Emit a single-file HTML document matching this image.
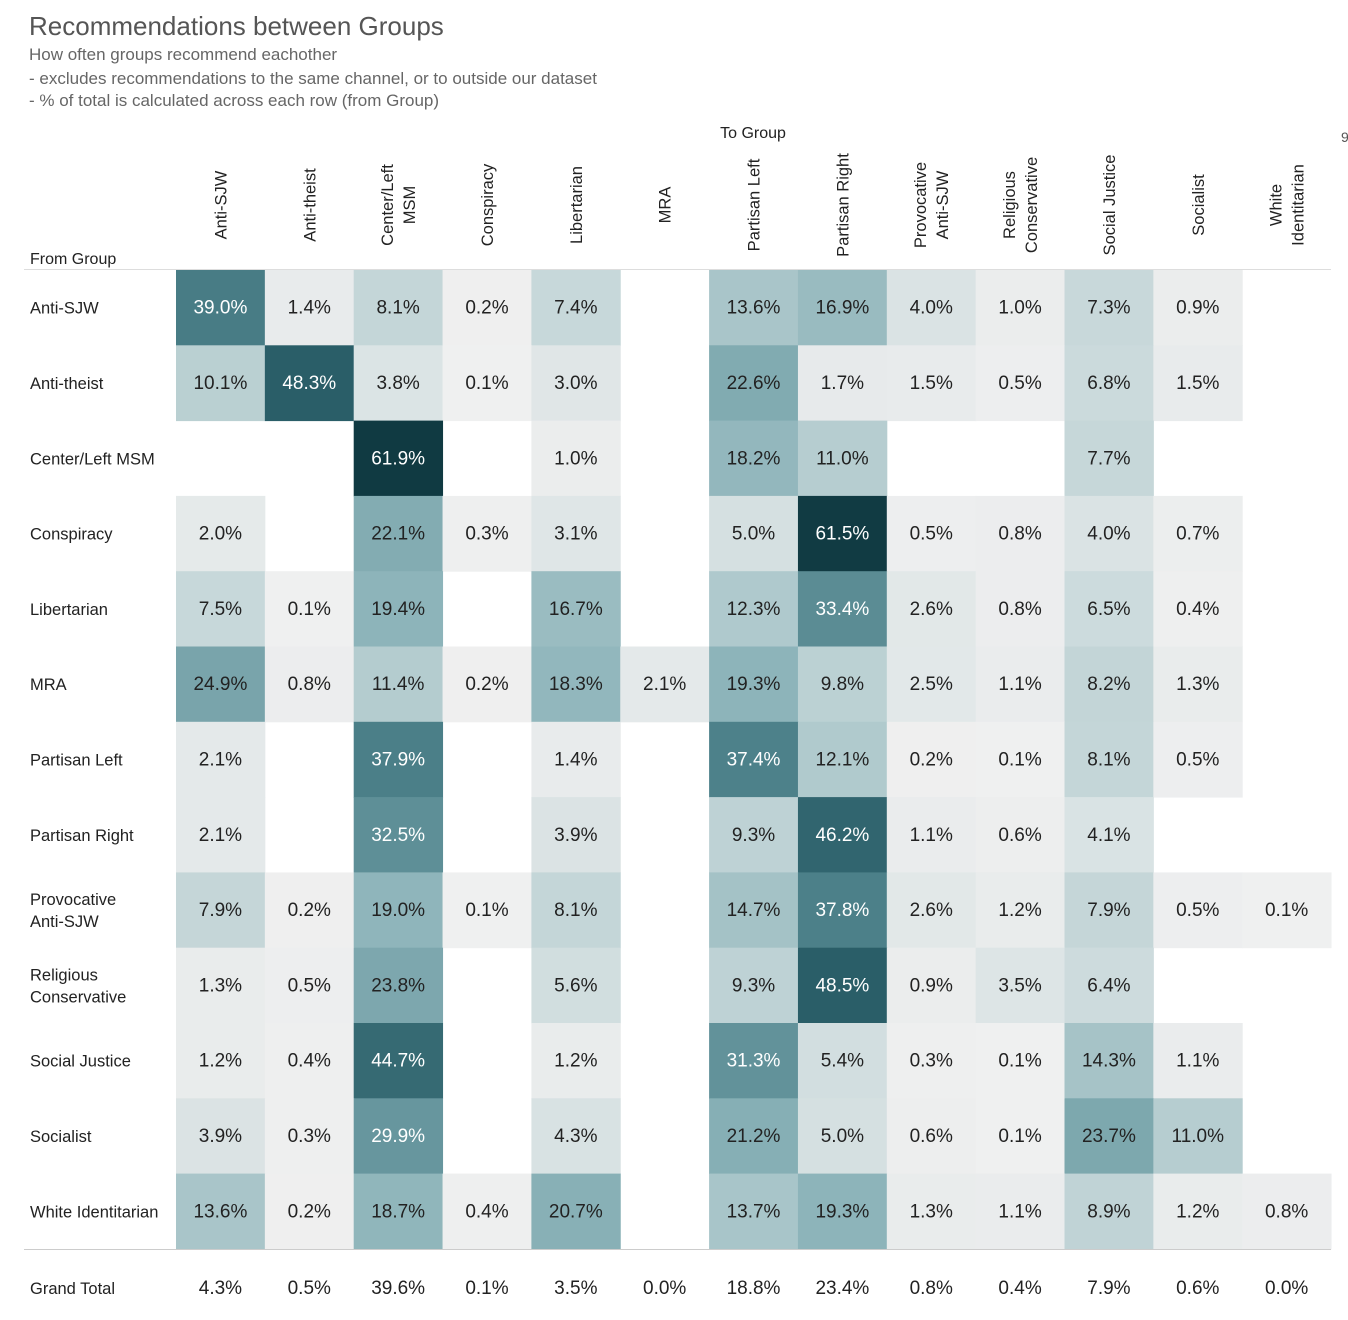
<!DOCTYPE html>
<html><head><meta charset="utf-8"><style>
body{margin:0;background:#fff;width:1348px;height:1315px;overflow:hidden;font-family:"Liberation Sans",sans-serif;}
svg text{font-family:"Liberation Sans",sans-serif;}
</style></head><body>
<svg id="chart" width="1348" height="1315">
<text x="29" y="35" font-size="26" fill="#555">Recommendations between Groups</text>
<text x="29" y="60" font-size="17" fill="#666">How often groups recommend eachother</text>
<text x="29" y="84" font-size="17" fill="#666"> - excludes recommendations to the same channel, or to outside our dataset</text>
<text x="29" y="106" font-size="17" fill="#666"> - % of total is calculated  across each row (from Group)</text>
<text x="753" y="138" font-size="16" fill="#222" text-anchor="middle">To Group</text>
<text x="30" y="264" font-size="16" fill="#222">From Group</text>
<text x="1341" y="142" font-size="14" fill="#555">9</text>
<g id="cells"></g>
</svg>
<script>
const cols=["Anti-SJW","Anti-theist","Center/Left|MSM","Conspiracy","Libertarian","MRA","Partisan Left","Partisan Right","Provocative|Anti-SJW","Religious|Conservative","Social Justice","Socialist","White|Identitarian"];
const rows=["Anti-SJW","Anti-theist","Center/Left MSM","Conspiracy","Libertarian","MRA","Partisan Left","Partisan Right","Provocative|Anti-SJW","Religious|Conservative","Social Justice","Socialist","White Identitarian"];
const N=null;
const values=[
[39.0,1.4,8.1,0.2,7.4,N,13.6,16.9,4.0,1.0,7.3,0.9,N],
[10.1,48.3,3.8,0.1,3.0,N,22.6,1.7,1.5,0.5,6.8,1.5,N],
[N,N,61.9,N,1.0,N,18.2,11.0,N,N,7.7,N,N],
[2.0,N,22.1,0.3,3.1,N,5.0,61.5,0.5,0.8,4.0,0.7,N],
[7.5,0.1,19.4,N,16.7,N,12.3,33.4,2.6,0.8,6.5,0.4,N],
[24.9,0.8,11.4,0.2,18.3,2.1,19.3,9.8,2.5,1.1,8.2,1.3,N],
[2.1,N,37.9,N,1.4,N,37.4,12.1,0.2,0.1,8.1,0.5,N],
[2.1,N,32.5,N,3.9,N,9.3,46.2,1.1,0.6,4.1,N,N],
[7.9,0.2,19.0,0.1,8.1,N,14.7,37.8,2.6,1.2,7.9,0.5,0.1],
[1.3,0.5,23.8,N,5.6,N,9.3,48.5,0.9,3.5,6.4,N,N],
[1.2,0.4,44.7,N,1.2,N,31.3,5.4,0.3,0.1,14.3,1.1,N],
[3.9,0.3,29.9,N,4.3,N,21.2,5.0,0.6,0.1,23.7,11.0,N],
[13.6,0.2,18.7,0.4,20.7,N,13.7,19.3,1.3,1.1,8.9,1.2,0.8]];
const totals=[4.3,0.5,39.6,0.1,3.5,0.0,18.8,23.4,0.8,0.4,7.9,0.6,0.0];

const X0=176,CW=88.85,Y0=270,RH=75.3;
const xPos=i=>X0+i*CW, yPos=j=>Y0+j*RH;
const stops=[[0,[240,240,240]],[8,[196,214,216]],[20,[138,178,184]],[38,[75,127,136]],[48,[43,95,105]],[62,[16,58,66]]];
function color(v){for(let k=1;k<stops.length;k++){if(v<=stops[k][0]||k==stops.length-1){const a=stops[k-1],b=stops[k];const t=Math.min(1,(v-a[0])/(b[0]-a[0]));const c=a[1].map((q,i)=>Math.round(q+(b[1][i]-q)*t));return `rgb(${c})`;}}}
const g=document.getElementById('cells');const NS="http://www.w3.org/2000/svg";
function mk(tag,attrs,txt){const e=document.createElementNS(NS,tag);for(const k in attrs)e.setAttribute(k,attrs[k]);if(txt!=null)e.textContent=txt;g.appendChild(e);return e;}
cols.forEach((c,i)=>{const parts=c.split('|');const cx=xPos(i)+CW/2;
 parts.forEach((p,k)=>{const off=(k-(parts.length-1)/2)*22;const t=mk('text',{x:0,y:0,'font-size':16.5,fill:'#222','text-anchor':'middle',transform:`translate(${cx+off+6},205) rotate(-90)`},p);
 
 });});
rows.forEach((r,j)=>{const parts=r.split('|');const cy=yPos(j)+RH/2;
 parts.forEach((p,k)=>{const t=mk('text',{x:30,y:cy+6+(k-(parts.length-1)/2)*22,'font-size':16.5,fill:'#222'},p);
 
 });
 values[j].forEach((v,i)=>{if(v===null)return;
  const rc=mk('rect',{x:xPos(i),y:yPos(j),width:CW+0.5,height:RH+0.5,fill:color(v)});
  
  
  const t=mk('text',{x:xPos(i)+CW/2,y:cy+6,'font-size':19,'text-anchor':'middle',fill:v>25?'#fff':'#222'},v.toFixed(1)+'%');
  
  });});
const l1=mk('line',{x1:24,x2:1331,y1:269.5,y2:269.5,stroke:'#ddd'});


const l2=mk('line',{x1:24,x2:1331,y1:1249.5,y2:1249.5,stroke:'#ccc'});


const gt=mk('text',{x:30,y:1294,'font-size':16.5,fill:'#222'},'Grand Total');


totals.forEach((v,i)=>{const t=mk('text',{x:xPos(i)+CW/2,y:1294,'font-size':19,'text-anchor':'middle',fill:'#222'},v.toFixed(1)+'%');
 
 });
</script>
</body></html>
